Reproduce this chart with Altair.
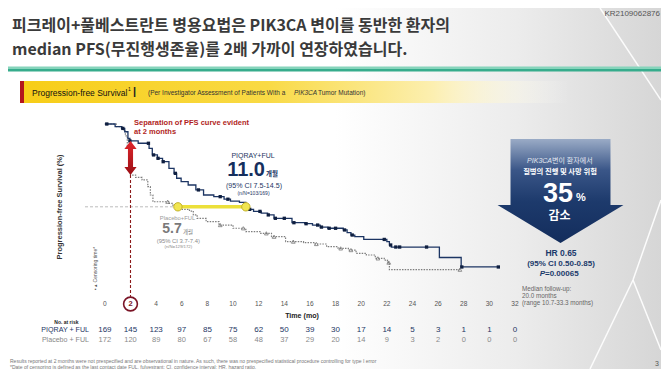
import altair as alt
import pandas as pd

# ---------------- data ----------------
piqray_t = [0, 0.8, 1.3, 1.55, 1.8, 1.95, 2.6, 3.45, 3.7, 4.1, 4.5, 5.0, 5.4, 5.6, 5.95, 6.5,
            7.1, 7.7, 8.5, 9.3, 9.8, 10.5, 11.0, 11.6, 12.2, 12.7, 13.2, 14.6, 15.6, 16.2, 16.8,
            17.4, 18.6, 18.9, 19.2, 19.5, 20.2, 22.0, 22.2, 22.35, 26.1, 27.8, 30.7]
piqray_s = [100, 98.4, 97.4, 95.4, 91.5, 90.0, 88.6, 85.6, 81.7, 79.7, 77.7, 73.8, 70.8, 67.9, 65.9, 63.9,
            61.0, 58.0, 57.0, 55.5, 54.4, 53.6, 49.5, 48.3, 47.3, 46.2, 44.2, 41.6, 41.0, 40.2, 39.0,
            38.3, 37.3, 35.7, 34.3, 33.3, 31.7, 30.4, 28.4, 27.2, 21.0, 15.4, 15.4]
placebo_t = [0, 0.9, 1.4, 1.6, 1.75, 1.9, 2.0, 2.4, 2.9, 3.35, 3.55, 3.75, 5.0, 5.3, 5.7, 6.6, 6.9,
             7.2, 7.9, 8.9, 10.0, 11.0, 12.1, 13.0, 14.1, 15.5, 16.4, 17.3, 18.2, 19.0, 19.6, 20.4,
             21.1, 21.8, 22.05, 22.2, 27.7]
placebo_s = [100, 98.5, 96.5, 93.0, 85.0, 75.0, 69.8, 68.4, 66.9, 62.9, 58.0, 54.0, 53.0, 52.0, 49.5, 48.5, 46.2,
             44.2, 42.2, 40.2, 38.3, 36.3, 35.3, 33.3, 30.4, 29.8, 29.0, 27.4, 26.4, 25.4, 23.5, 22.5,
             20.5, 19.5, 18.0, 13.8, 13.8]

piqray_cens_t = [0.15, 1.4, 1.95, 3.4, 3.8, 4.15, 4.55, 5.5, 7.3, 9.0, 9.6, 11.3, 12.1, 12.75, 13.3, 14.0,
                 14.75, 15.7, 16.6, 16.9, 17.5, 18.0, 18.7, 19.3, 21.8, 22.3, 22.7, 23.0, 25.1, 27.85, 30.7]
piqray_cens_s = [100, 97.4, 90.0, 88.6, 81.7, 79.7, 77.7, 70.8, 61.0, 57.0, 55.5, 49.5, 48.3, 46.2, 44.2, 44.2,
                 41.6, 41.0, 40.2, 39.0, 38.3, 38.3, 37.3, 34.3, 31.7, 28.4, 27.2, 27.2, 27.2, 15.4, 15.4]
placebo_cens_t = [4.9, 9.0, 10.8, 12.6, 13.2, 14.7, 16.5, 18.4, 19.2, 21.3, 22.15, 27.7]
placebo_cens_s = [54.0, 40.2, 38.3, 35.3, 33.3, 30.4, 29.0, 26.4, 25.4, 20.5, 18.0, 13.8]

risk_t = [0, 2, 4, 6, 8, 10, 12, 14, 16, 18, 20, 22, 24, 26, 28, 30, 32]
risk_piqray = [169, 145, 123, 97, 85, 75, 62, 50, 39, 30, 17, 14, 5, 3, 1, 1, 0]
risk_placebo = [172, 120, 89, 80, 67, 58, 48, 37, 29, 20, 14, 9, 3, 2, 0, 0, 0]
y_ticks = [0, 20, 40, 60, 80, 100]

median_t = [5.7, 11.0]          # placebo, piqray
median_level = 51
separation_t = 2
separation_hi, separation_lo = 90.0, 69.8

# ---------------- layout ----------------
OX, OY = 85, 124          # plot origin in page pixels
W, H = 430, 169
NAVY = "#1c3563"
GRAY = "#8a8a8a"
SANS = "Liberation Sans, Arial, Noto Sans CJK KR, sans-serif"
KR = "Noto Sans CJK KR, sans-serif"

one = pd.DataFrame({"k": [0]})
xs = alt.Scale(domain=[-1.55, 32], nice=False, zero=False)
ys = alt.Scale(domain=[0, 100], nice=False)
XA = alt.Axis(values=risk_t, labels=False, title=None, grid=False, domainColor="#808080",
              tickColor="#808080", tickSize=4)
YA = alt.Axis(values=y_ticks, title=None, grid=False, labelFontSize=6.6, labelColor="#444",
              labelFont=SANS, tickSize=4, tickColor="#808080", domainColor="#808080", labelPadding=2)


def T(text, x, y, size, color="#333", weight="normal", align="left", font=SANS, angle=0,
      style="normal", baseline="middle"):
    return alt.Chart(one).mark_text(text=text, fontSize=size, color=color, fontWeight=weight,
                                    align=align, baseline=baseline, font=font, angle=angle,
                                    fontStyle=style).encode(x=alt.value(x - OX), y=alt.value(y - OY))


def R(x1, x2, y1, y2, fill):
    return alt.Chart(one).mark_rect(fill=fill).encode(
        x=alt.value(x1 - OX), x2=alt.value(x2 - OX), y=alt.value(y1 - OY), y2=alt.value(y2 - OY))


def L(x1, y1, x2, y2, color, width=1.0, opacity=1.0):
    return alt.Chart(one).mark_rule(color=color, strokeWidth=width, opacity=opacity).encode(
        x=alt.value(x1 - OX), y=alt.value(y1 - OY), x2=alt.value(x2 - OX), y2=alt.value(y2 - OY))


def grad(stops, vertical=False):
    return {"gradient": "linear", "x1": 0, "y1": 0, "x2": 0 if vertical else 1, "y2": 1 if vertical else 0,
            "stops": [{"offset": o, "color": c} for o, c in stops]}


layers = []
# background
layers.append(R(8, 661, 8, 369, grad([(0, "#ffffff"), (0.5, "#ffffff"), (0.78, "#ececec"), (1, "#d6d6d6")])))
for a in [(600, 8, 661, 100), (661, 200, 633, 280), (633, 280, 590, 369), (633, 280, 661, 350)]:
    layers.append(L(*a, color="#ffffff", width=1.5, opacity=0.9))

# title
layers.append(T("피크레이+풀베스트란트 병용요법은 PIK3CA 변이를 동반한 환자의", 12, 26, 16, "#3a3a3a", "bold", font=KR))
layers.append(T("median PFS(무진행생존율)를 2배 가까이 연장하였습니다.", 12, 50, 16, "#3a3a3a", "bold", font=KR))
layers.append(T("KR2109062876", 660, 14, 8, "#555", align="right"))
layers.append(R(8, 661, 66.5, 69, "#86d4bb"))
layers.append(R(8, 661, 69, 71.5, "#36ac8c"))

# header bar
layers.append(R(20, 570, 81, 103, grad([(0, "#f7cd17"), (0.45, "#f9da45"), (0.75, "#fcefb0"), (1, "rgba(255,255,255,0)")])))
layers.append(R(20, 24, 81, 103, "#b3161d"))
layers.append(T("Progression-free Survival", 32, 92.5, 8.5, "#111"))
layers.append(T("1", 128, 89, 5, "#111"))
layers.append(T("|", 133, 92, 11, "#222", "bold"))
layers.append(T("(Per Investigator Assessment of Patients With a ", 148, 92.5, 6.5, "#333"))
layers.append(T("PIK3CA", 294, 92.5, 6.5, "#333", style="italic"))
layers.append(T(" Tumor Mutation)", 318, 92.5, 6.5, "#333"))

# KM curves
piq_df = pd.DataFrame({"t": piqray_t, "s": piqray_s})
pla_df = pd.DataFrame({"t": placebo_t, "s": placebo_s})
layers.append(alt.Chart(pla_df).mark_line(interpolate="step-after", color="#7d7d7d", strokeWidth=1.2,
                                          strokeDash=[1.5, 1.2]).encode(
    x=alt.X("t:Q", scale=xs, axis=XA), y=alt.Y("s:Q", scale=ys, axis=YA)))
layers.append(alt.Chart(piq_df).mark_line(interpolate="step-after", color=NAVY, strokeWidth=1.3).encode(
    x=alt.X("t:Q", scale=xs, axis=None), y=alt.Y("s:Q", scale=ys, axis=None)))
pc_df = pd.DataFrame({"t": placebo_cens_t, "s": placebo_cens_s})
layers.append(alt.Chart(pc_df).mark_point(shape="triangle-up", size=14, filled=False, color="#777",
                                          strokeWidth=0.8, opacity=1).encode(
    x=alt.X("t:Q", scale=xs, axis=None), y=alt.Y("s:Q", scale=ys, axis=None)))
qc_df = pd.DataFrame({"t": piqray_cens_t, "s": piqray_cens_s})
layers.append(alt.Chart(qc_df).mark_square(size=11, color="#0f1f40", opacity=1).encode(
    x=alt.X("t:Q", scale=xs, axis=None), y=alt.Y("s:Q", scale=ys, axis=None)))

# median guides
med_df = pd.DataFrame({"a": [-1.55], "b": [median_t[0]], "c": [median_t[1]], "lvl": [median_level]})
layers.append(alt.Chart(med_df).mark_rule(color="#bdbdbd", strokeWidth=1, strokeDash=[3, 2]).encode(
    x=alt.X("a:Q", scale=xs, axis=None), x2="b:Q", y=alt.Y("lvl:Q", scale=ys, axis=None)))
layers.append(alt.Chart(med_df).mark_rule(color="#ece03a", strokeWidth=3.5).encode(
    x=alt.X("b:Q", scale=xs, axis=None), x2="c:Q", y=alt.Y("lvl:Q", scale=ys, axis=None)))
mp_df = pd.DataFrame({"t": median_t, "lvl": [median_level] * 2})
layers.append(alt.Chart(mp_df).mark_circle(size=70, fill="#f1e550", stroke="#c2b12a", strokeWidth=1,
                                           opacity=1).encode(
    x=alt.X("t:Q", scale=xs, axis=None), y=alt.Y("lvl:Q", scale=ys, axis=None)))

# separation at 2 months
sep_df = pd.DataFrame({"t": [separation_t], "lo": [separation_lo], "mid": [(separation_hi + separation_lo) / 2]})
layers.append(alt.Chart(sep_df).mark_rule(color="#8b1a1a", strokeWidth=1.1, strokeDash=[3, 2]).encode(
    x=alt.X("t:Q", scale=xs, axis=None), y=alt.Y("lo:Q", scale=ys, axis=None), y2=alt.value(297 - OY)))
dbl = ("M 0 -1 L 0.36 -0.53 L 0.15 -0.53 L 0.15 0.53 L 0.36 0.53 L 0 1 "
       "L -0.36 0.53 L -0.15 0.53 L -0.15 -0.53 L -0.36 -0.53 Z")
layers.append(alt.Chart(sep_df).mark_point(shape=dbl, size=1156, filled=True, strokeWidth=0, opacity=1,
                                           fill=grad([(0, "#e0262c"), (1, "#9a0e14")], vertical=True)).encode(
    x=alt.X("t:Q", scale=xs, axis=None), y=alt.Y("mid:Q", scale=ys, axis=None)))
layers.append(alt.Chart(sep_df).mark_point(size=190, filled=False, color="#7a1426", strokeWidth=1.6,
                                           opacity=1).encode(
    x=alt.X("t:Q", scale=xs, axis=None), y=alt.value(304 - OY)))
layers.append(T("Separation of PFS curve evident", 134, 122.5, 7.5, "#b01e23", "bold"))
layers.append(T("at 2 months", 134, 132, 7.5, "#b01e23", "bold"))

# arm labels
layers.append(T("PIQRAY+FUL", 253, 156, 7, NAVY, align="center"))
layers.append(T("11.0", 265, 170, 20, "#152f5e", "bold", align="right"))
layers.append(T("개월", 266, 174, 6.5, "#152f5e", "bold", font=KR))
layers.append(T("(95% CI 7.5-14.5)", 254, 185.5, 7.1, NAVY, align="center"))
layers.append(T("(n/N=103/169)", 253.5, 193, 5, NAVY, align="center"))
layers.append(T("Placebo+FUL", 177.5, 218, 5.8, "#9a9a9a", align="center"))
layers.append(T("5.7", 181.7, 229, 14, "#7a7a7a", "bold", align="right"))
layers.append(T("개월", 183, 232, 5.5, "#7a7a7a", font=KR))
layers.append(T("(95% CI 3.7-7.4)", 178.3, 240.7, 5.9, "#8a8a8a", align="center"))
layers.append(T("(n/N=129/172)", 178.3, 246.5, 4.3, "#8a8a8a", align="center"))
layers.append(T("▪ ▴ Censoring time*", 95, 290, 5, "#555", angle=270))
layers.append(T("Progression-free Survival (%)", 60, 207, 7.5, "#333", "bold", align="center", angle=270))

# x tick labels and risk table
tick_df = pd.DataFrame({"t": risk_t})
layers.append(alt.Chart(tick_df).transform_filter("datum.t != 2").mark_text(
    fontSize=6.6, color="#555", font=SANS).encode(
    x=alt.X("t:Q", scale=xs, axis=None), y=alt.value(304 - OY), text=alt.Text("t:Q")))
layers.append(alt.Chart(tick_df).transform_filter("datum.t == 2").mark_text(
    fontSize=7.5, color="#7a1426", fontWeight="bold", font=SANS).encode(
    x=alt.X("t:Q", scale=xs, axis=None), y=alt.value(304 - OY), text=alt.Text("t:Q")))
layers.append(T("Time (mo)", 302, 316, 7.1, "#222", "bold", align="center"))
layers.append(T("No. at risk", 78.5, 321.5, 5, "#222", "bold", align="right"))
layers.append(T("PIQRAY + FUL", 89, 329.5, 7.1, NAVY, align="right"))
layers.append(T("Placebo + FUL", 89, 339.5, 7.1, "#888", align="right"))
risk_df = pd.DataFrame({"t": risk_t, "piq": risk_piqray, "pla": risk_placebo})
layers.append(alt.Chart(risk_df).mark_text(fontSize=8, color=NAVY, font=SANS).encode(
    x=alt.X("t:Q", scale=xs, axis=None), y=alt.value(329.5 - OY), text=alt.Text("piq:Q")))
layers.append(alt.Chart(risk_df).mark_text(fontSize=7.5, color="#8a8a8a", font=SANS).encode(
    x=alt.X("t:Q", scale=xs, axis=None), y=alt.value(339.5 - OY), text=alt.Text("pla:Q")))

# big arrow
arrow = ("M -0.769 -0.8 L 0.769 -0.8 L 0.769 0.215 L 0.969 0.215 L 0 0.8 "
         "L -0.969 0.215 L -0.769 0.215 Z")
layers.append(alt.Chart(one).mark_point(shape=arrow, size=16900, filled=True, strokeWidth=0, opacity=1,
                                        fill=grad([(0, "#9aabc6"), (0.3, "#3a5688"), (0.6, "#1d3a6c"),
                                                   (1, "#132d5c")], vertical=True)).encode(
    x=alt.value(560.5 - OX), y=alt.value(191 - OY)))
layers.append(T("PIK3CA", 552, 160.5, 7, "#e3e8f1", style="italic", align="right"))
layers.append(T(" 변이 환자에서", 552, 160.5, 7, "#e3e8f1"))
layers.append(T("질병의 진행 및 사망 위험", 560, 171.5, 7.3, "#ffffff", "bold", align="center", font=KR))
layers.append(T("35", 573, 193.5, 27, "#ffffff", "bold", align="right"))
layers.append(T("%", 576, 198, 11, "#ffffff", "bold"))
layers.append(T("감소", 559.5, 216, 12, "#ffffff", "bold", align="center", font=KR))
layers.append(T("HR 0.65", 561, 253, 8.5, "#1b3a6b", "bold", align="center"))
layers.append(T("(95% CI 0.50-0.85)", 561, 263.5, 8, "#1b3a6b", "bold", align="center"))
layers.append(T("P", 545, 274, 8, "#1b3a6b", "bold", align="right", style="italic"))
layers.append(T(" =0.00065", 545, 274, 8, "#1b3a6b", "bold"))
layers.append(T("Median follow-up:", 522, 288.5, 6.3, "#666"))
layers.append(T("20.0 months", 522, 295.5, 6.3, "#666"))
layers.append(T("(range 10.7-33.3 months)", 522, 303, 6.3, "#666"))

# footnotes
layers.append(T("Results reported at 2 months were not prespecified and are observational in nature. "
                "As such, there was no prespecified statistical procedure controlling for type I error",
                10, 361, 5, "#777"))
layers.append(T("*Date of censoring is defined as the last contact date FUL, fulvestrant; CI, confidence "
                "interval; HR, hazard ratio.", 10, 366.5, 5, "#777"))
layers.append(T("3", 659, 364, 7, "#555", align="right"))

chart = alt.layer(*layers).properties(
    width=W, height=H,
    autosize=alt.AutoSizeParams(type="none"),
    padding={"left": OX - 8, "top": OY - 8, "right": 653 - (OX - 8) - W, "bottom": 361 - (OY - 8) - H},
    background="white",
).configure_view(stroke=None)

chart.save("out.html", embed_options={"renderer": "svg", "actions": False})
